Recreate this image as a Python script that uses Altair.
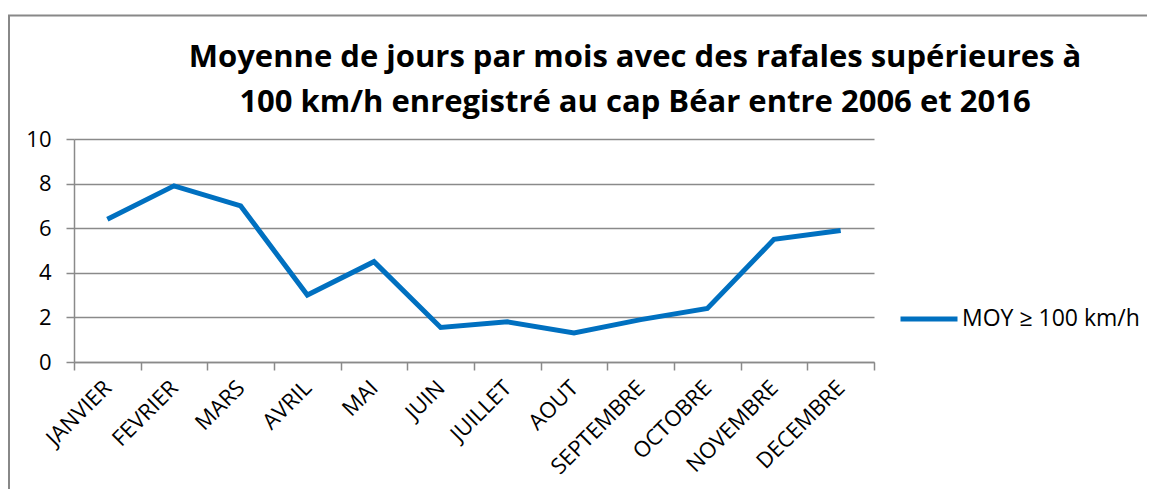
import altair as alt
import pandas as pd

months = ["JANVIER", "FEVRIER", "MARS", "AVRIL", "MAI", "JUIN", "JUILLET",
          "AOUT", "SEPTEMBRE", "OCTOBRE", "NOVEMBRE", "DECEMBRE"]
values = [6.4, 7.9, 7.0, 3.0, 4.5, 1.55, 1.8, 1.3, 1.9, 2.4, 5.5, 5.9]
series_name = "MOY ≥ 100 km/h"
y_ticks = [0, 2, 4, 6, 8, 10]
title_line1 = "Moyenne de jours par mois avec des rafales supérieures à"
title_line2 = "100 km/h enregistré au cap Béar entre 2006 et 2016"

FONT = "Open Sans"
GRID = "#8a8a8a"
BLUE = "#0070C0"

df = pd.DataFrame({"mois": months, "valeur": values, "serie": series_name})
one = pd.DataFrame({"k": [0]})

border = alt.Chart(one).mark_rect(
    fillOpacity=0, stroke="#888888", strokeWidth=2, clip=False
).encode(
    x=alt.value(-65), x2=alt.value(1120),
    y=alt.value(-123.5), y2=alt.value(420)
)

t1 = alt.Chart(one).mark_text(
    text=title_line1, font=FONT, fontSize=31, fontWeight="bold",
    color="#000000", align="center", baseline="alphabetic", clip=False
).encode(x=alt.value(561), y=alt.value(-72))

t2 = alt.Chart(one).mark_text(
    text=title_line2, font=FONT, fontSize=31, fontWeight="bold",
    color="#000000", align="center", baseline="alphabetic", clip=False
).encode(x=alt.value(561), y=alt.value(-27))

line = alt.Chart(df).mark_line(strokeWidth=5, clip=False, strokeJoin="miter").encode(
    x=alt.X("mois:N", sort=months, bandPosition=0.5,
            scale=alt.Scale(type="band", paddingInner=0, paddingOuter=0),
            axis=alt.Axis(title=None, labelAngle=-45, labelAlign="right",
                          labelBaseline="middle", tickBand="extent",
                          labelFont=FONT, labelFontSize=22, labelColor="#000000",
                          labelPadding=14, tickSize=8, tickColor=GRID,
                          tickWidth=1.5, domainColor=GRID, domainWidth=1.5,
                          grid=False)),
    y=alt.Y("valeur:Q", scale=alt.Scale(domain=[0, 10], nice=False),
            axis=alt.Axis(title=None, values=y_ticks, labelFont=FONT,
                          labelFontSize=22, labelColor="#000000",
                          labelPadding=15, tickSize=8, tickColor=GRID,
                          tickWidth=1.5, domainColor=GRID, domainWidth=1.5,
                          grid=True, gridColor=GRID, gridWidth=1.5)),
    color=alt.Color("serie:N", scale=alt.Scale(range=[BLUE]),
                    legend=alt.Legend(title=None, orient="none",
                                      legendX=824, legendY=149,
                                      symbolType="stroke", symbolSize=3249,
                                      symbolStrokeWidth=5, labelFont=FONT,
                                      labelFontSize=23, labelColor="#000000",
                                      labelOffset=2, labelLimit=400))
)

chart = alt.layer(border, t1, t2, line).properties(
    width=800, height=223,
    autosize=alt.AutoSizeParams(type="none"),
    padding={"left": 66, "top": 131, "right": 273, "bottom": 127}
).configure_view(strokeWidth=0)

chart.save("out.html", embed_options={"renderer": "svg", "actions": False})
